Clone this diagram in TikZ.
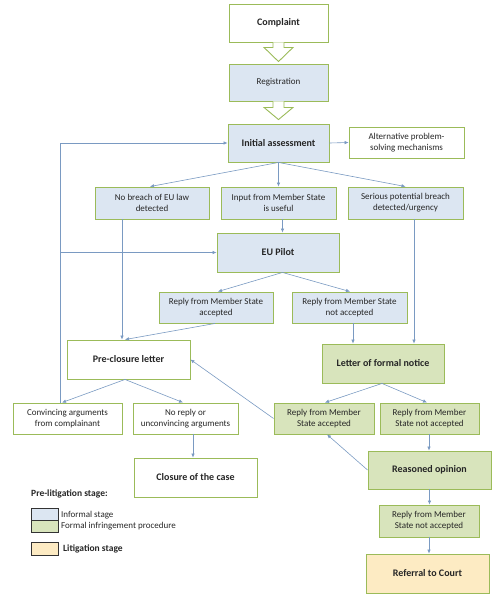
\documentclass[tikz,border=0pt]{standalone}
\usepackage{fontspec}
\setmainfont{Carlito}
\usetikzlibrary{arrows.meta,calc}
\definecolor{bfill}{HTML}{DCE6F2}
\definecolor{gfill}{HTML}{D8E4BC}
\definecolor{ofill}{HTML}{FDEBC3}
\definecolor{gbord}{HTML}{9BBB59}
\definecolor{arrc}{HTML}{7A9AC2}
\definecolor{txt}{HTML}{262626}
\begin{document}
\begin{tikzpicture}[x=1pt,y=-1pt,
  bx/.style={draw=gbord,line width=0.9pt,inner sep=1pt,align=center,text=txt,fill=white,
    font=\fontsize{9}{11}\selectfont},
  bb/.style={bx,font=\fontsize{10}{12}\selectfont\bfseries},
  blu/.style={fill=bfill},
  grn/.style={fill=gfill},
  org/.style={fill=ofill},
  arr/.style={draw=arrc,line width=0.6pt,-{Latex[length=4pt,width=3.6pt]}},
  blk/.style={draw=gbord,line width=0.9pt,fill=white,line join=miter},
  leg/.style={draw=black!80,line width=0.8pt},
  lt/.style={anchor=west,inner sep=0pt,text=txt,font=\fontsize{9}{11}\selectfont},
]
\useasboundingbox (0,0) rectangle (500,603);
% nodes
\node[bb, minimum width=99, minimum height=38] (comp) at (278.5,23) {Complaint};
\node[bx,blu, minimum width=99, minimum height=37] (reg) at (278.5,82.5) {Registration};
\node[bb,blu, minimum width=101, minimum height=38] (ia) at (278.5,143) {Initial assessment};
\node[bx, minimum width=115, minimum height=31] (alt) at (406.5,142.5) {Alternative problem-\\solving mechanisms};
\node[bx,blu, minimum width=114, minimum height=32] (nob) at (152,203) {No breach of EU law\\detected};
\node[bx,blu, minimum width=115, minimum height=32] (inp) at (278.5,203) {Input from Member State\\is useful};
\node[bx,blu, minimum width=115, minimum height=32] (ser) at (405.5,203) {Serious potential breach\\detected/urgency};
\node[bb,blu, minimum width=122, minimum height=39] (pil) at (278,252.5) {EU Pilot};
\node[bx,blu, minimum width=114, minimum height=31] (ra1) at (216,307.5) {Reply from Member State\\accepted};
\node[bx,blu, minimum width=115, minimum height=31] (rn1) at (349.5,307.5) {Reply from Member State\\not accepted};
\node[bb, minimum width=123, minimum height=39] (pcl) at (128.5,359.5) {Pre-closure letter};
\node[bb,grn, minimum width=122, minimum height=39] (lfn) at (383,363.5) {Letter of formal notice};
\node[bx, minimum width=109, minimum height=31] (conv) at (67.5,418.5) {Convincing arguments\\from complainant};
\node[bx, minimum width=105, minimum height=31] (norep) at (185.5,418.5) {No reply or\\unconvincing arguments};
\node[bx,grn, minimum width=100, minimum height=31] (ra2) at (324,418.5) {Reply from Member\\State accepted};
\node[bx,grn, minimum width=99, minimum height=31] (rn2) at (429.5,418.5) {Reply from Member\\State not accepted};
\node[bb, minimum width=123, minimum height=39] (clo) at (195.5,477.5) {Closure of the case};
\node[bb,grn, minimum width=123, minimum height=38] (reo) at (429.5,470) {Reasoned opinion};
\node[bx,grn, minimum width=100, minimum height=32] (rn3) at (429,521) {Reply from Member\\State not accepted};
\node[bb,org, minimum width=123, minimum height=39] (ref) at (427.5,573.5) {Referral to Court};
% block arrows
\draw[blk] ([xshift=-5.5pt]comp.south) -- ++(0,5) -- ++(-9,0) -- ($(reg.north)+(0,-2)$)
  -- ($(comp.south)+(14.5,5)$) -- ++(-9,0) -- ([xshift=5.5pt]comp.south);
\draw[blk] ([xshift=-5.5pt]reg.south) -- ++(0,6) -- ++(-9,0) -- ($(ia.north)+(0,-4)$)
  -- ($(reg.south)+(14.5,6)$) -- ++(-9,0) -- ([xshift=5.5pt]reg.south);
% connectors
\draw[arr] (ia.east) -- (alt.west);
\draw[arr] (ia.south) -- ([xshift=-2pt]nob.north);
\draw[arr] (ia.south) -- (inp.north);
\draw[arr] (ia.south) -- (ser.north);
\draw[arr] ([xshift=4pt]inp.south) -- ([xshift=4.5pt]pil.north);
\draw[arr] ([xshift=4.5pt]pil.south) -- ([xshift=2pt]ra1.north);
\draw[arr] ([xshift=4.5pt]pil.south) -- ([xshift=0.5pt]rn1.north);
\draw[arr] ([xshift=-30pt]nob.south) -- ([xshift=-30pt]nob.south |- pcl.north);
\draw[arr] ([xshift=-1pt]ra1.south) -- ([xshift=-3.5pt]pcl.north);
\draw[arr] ([xshift=3.5pt]rn1.south) -- ([xshift=3.5pt]rn1.south |- lfn.north);
\draw[arr] ([xshift=8.5pt]ser.south) -- ([xshift=8.5pt]ser.south |- lfn.north);
\draw[arr] ([xshift=-1pt]lfn.south) -- ([xshift=1pt]ra2.north);
\draw[arr] ([xshift=-1pt]lfn.south) -- ([xshift=-2.5pt]rn2.north);
\draw[arr] ([xshift=-3.5pt]pcl.south) -- ([xshift=-5.5pt]conv.north);
\draw[arr] ([xshift=-3.5pt]pcl.south) -- ([xshift=-2.5pt]norep.north);
\draw[arr] ([xshift=7.5pt]norep.south) -- ([xshift=7.5pt]norep.south |- clo.north);
\draw[arr] ([xshift=-0.5pt]rn2.south) -- ([xshift=-0.5pt]rn2.south |- reo.north);
\draw[arr] (reo.west) -- ([xshift=3pt]ra2.south);
\draw[arr] (ra2.west) -- (pcl.east);
\draw[arr] (reo.south) -- ([xshift=0.5pt]rn3.north);
\draw[arr] (rn3.south) -- ([xshift=1.5pt]ref.north);
\coordinate (fb) at (60,0);
\draw[arr] (conv.north -| fb) -- (fb |- ia.west) -- (ia.west);
\draw[arr] (fb |- pil.west) -- (pil.west);
% legend
\node[lt,font=\fontsize{9.5}{11}\selectfont\bfseries] (lh) at (31,494) {Pre-litigation stage:};
\node[leg,fill=bfill,minimum width=27,minimum height=12,inner sep=0pt] (lb) at (44.5,514) {};
\node[leg,fill=gfill,minimum width=27,minimum height=12,inner sep=0pt] (lg) at (44.5,526) {};
\node[leg,fill=ofill,minimum width=27,minimum height=13,inner sep=0pt] (lo) at (44.5,548.5) {};
\node[lt] (lbt) at (61,515.5) {Informal stage};
\node[lt] (lgt) at (61,526) {Formal infringement procedure};
\node[lt,font=\fontsize{9.5}{11}\selectfont\bfseries] (lot) at (63,549) {Litigation stage};
\end{tikzpicture}
\end{document}
